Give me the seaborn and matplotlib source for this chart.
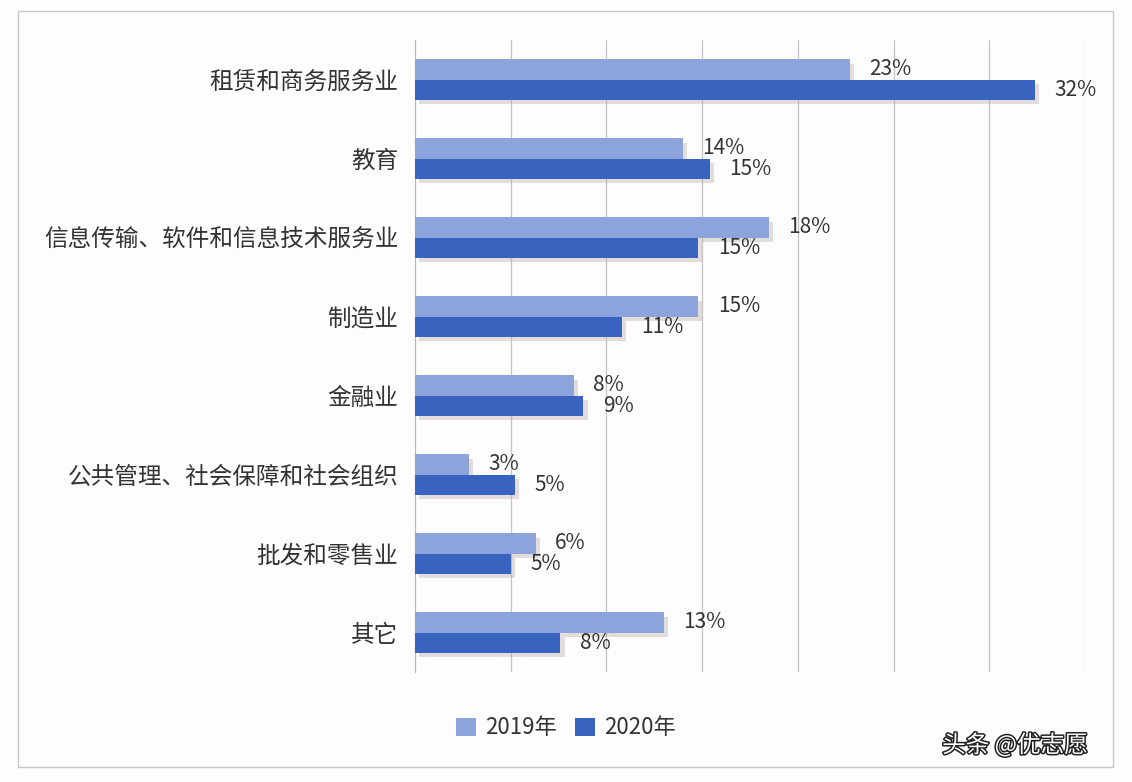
import matplotlib
matplotlib.use("Agg")
import matplotlib.pyplot as plt
import matplotlib.patheffects as pe
from matplotlib.patches import Rectangle, Patch
import pandas as pd
import seaborn as sns

categories = ["租赁和商务服务业", "教育", "信息传输、软件和信息技术服务业", "制造业",
              "金融业", "公共管理、社会保障和社会组织", "批发和零售业", "其它"]
values_2019 = [22.7, 14.0, 18.5, 14.8, 8.3, 2.8, 6.3, 13.0]
values_2020 = [32.4, 15.4, 14.8, 10.8, 8.8, 5.2, 5.0, 7.6]
series_names = ["2019年", "2020年"]
colors = ["#8DA3DC", "#3863BF"]

sns.set_theme(style="white")
plt.rcParams["font.family"] = ["Noto Sans CJK SC", "DejaVu Sans"]

df = pd.DataFrame({
    "category": categories * 2,
    "value": values_2019 + values_2020,
    "year": [series_names[0]] * len(categories) + [series_names[1]] * len(categories),
})

fig = plt.figure(figsize=(11.32, 7.82), dpi=100)
fig.patch.set_facecolor("#FDFDFE")

# outer border
fig.patches.append(Rectangle((18 / 1132, 1 - 767 / 782), (1113 - 18) / 1132, (767 - 11) / 782,
                             transform=fig.transFigure, fill=False,
                             edgecolor="#C8C8C8", linewidth=1.0, zorder=1))

ax = fig.add_axes([415 / 1132, 1 - 672 / 782, (1085 - 415) / 1132, (672 - 40) / 782])
ax.set_facecolor("none")

sns.barplot(data=df, y="category", x="value", hue="year", palette=colors,
            width=0.51, orient="h", saturation=1, legend=False, ax=ax, zorder=3)

shadow = [pe.SimplePatchShadow(offset=(3, -3), shadow_rgbFace="#B0A49A", alpha=0.35), pe.Normal()]
for patch in ax.patches:
    patch.set_linewidth(0)
    patch.set_path_effects(shadow)

for cont in ax.containers:
    labels = [f"{round(b.get_width())}%" for b in cont]
    ax.bar_label(cont, labels=labels, padding=14, fontsize=15, color="#333333")

ax.set_xlim(0, 35)
ax.set_xticks([5, 10, 15, 20, 25, 30, 35])
ax.xaxis.grid(True, color="#C4C4C4", linewidth=0.9)
ax.set_axisbelow(True)
ax.tick_params(axis="x", length=0, labelbottom=False)
ax.tick_params(axis="y", length=0, labelsize=17, labelcolor="#333333", pad=12)
ax.set_xlabel("")
ax.set_ylabel("")
for s in ["top", "right", "bottom"]:
    ax.spines[s].set_visible(False)
ax.spines["left"].set_color("#B8B8B8")
ax.spines["left"].set_linewidth(0.9)

handles = [Patch(facecolor=c, edgecolor="none") for c in colors]
fig.legend(handles, series_names, loc="center", bbox_to_anchor=(0.5, 1 - 728 / 782),
           ncol=2, frameon=False, fontsize=16, handlelength=0.9, handleheight=0.9,
           handletextpad=0.4, columnspacing=0.8, labelcolor="#333333")

fig.text(1015 / 1132, 1 - 745 / 782, "头条 @优志愿", fontsize=17, color="white",
         ha="center", va="center",
         path_effects=[pe.withStroke(linewidth=2.2, foreground="#222222")])

fig.savefig("out.png", dpi=100, facecolor=fig.get_facecolor())
